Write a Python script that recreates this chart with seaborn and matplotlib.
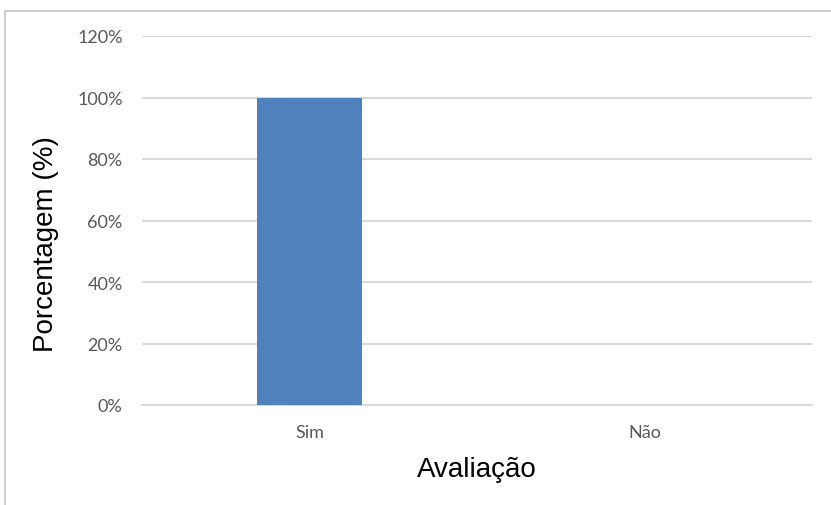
import pandas as pd
import numpy as np
import matplotlib
matplotlib.use("Agg")
import matplotlib.pyplot as plt
import matplotlib.patches as patches
from matplotlib.ticker import FuncFormatter
import seaborn as sns

# data
categorias = ["Sim", "Não"]
porcentagem = [100, 0]
yticks = [0, 20, 40, 60, 80, 100, 120]

data = pd.DataFrame({"Avaliação": categorias, "Porcentagem": porcentagem})

sns.set_style("white")
fig = plt.figure(figsize=(8.31, 5.06), dpi=100)
ax = fig.add_axes([142/831, 1-406/506, (812-142)/831, (406-37)/506])

sns.barplot(data=data, x="Avaliação", y="Porcentagem", color="#4F81BD",
            saturation=1, width=0.315, linewidth=0, ax=ax, zorder=3)

ax.set_xlim(-0.5, 1.5)
ax.set_ylim(0, 120)
ax.set_yticks(yticks)
ax.yaxis.set_major_formatter(FuncFormatter(lambda v, p: f"{v:.0f}%"))
ax.grid(axis="y", color="#D9D9D9", linewidth=1.5, zorder=0)
for s in ["top", "right", "left"]:
    ax.spines[s].set_visible(False)
ax.spines["bottom"].set_color("#D9D9D9")
ax.spines["bottom"].set_linewidth(1.5)
ax.tick_params(axis="both", length=0, labelsize=13, labelcolor="#595959")
ax.tick_params(axis="y", pad=14)
ax.tick_params(axis="x", pad=14)
for t in ax.get_xticklabels() + ax.get_yticklabels():
    t.set_family("Lato")

ax.set_xlabel("Avaliação", fontsize=20, family="Liberation Sans", color="black", labelpad=11)
ax.set_ylabel("Porcentagem (%)", fontsize=20, family="Liberation Sans", color="black")
ax.yaxis.set_label_coords(-0.124, 0.44)

# outer chart border
fig.patches.append(patches.Rectangle((5/831, -0.1), 1.2, 1-12/506+0.1, transform=fig.transFigure,
                                     fill=False, edgecolor="#D0D0D0", linewidth=1.5))

plt.savefig("out.png", dpi=100)
